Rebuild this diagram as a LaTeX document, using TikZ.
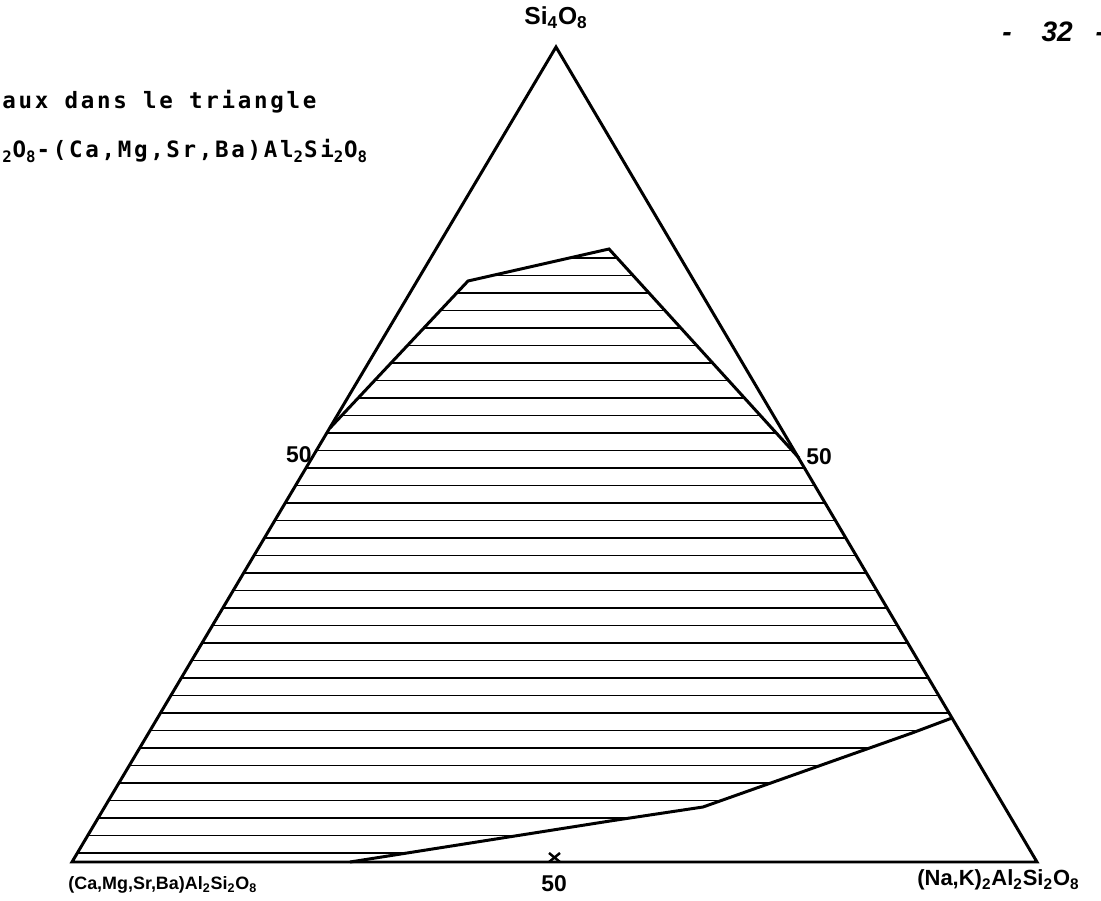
\documentclass[tikz,border=0pt]{standalone}
\usepackage{fontspec}
\setsansfont{Liberation Sans}
\newfontfamily\typefont[LetterSpace=12]{DejaVu Sans Mono}
\usetikzlibrary{calc}
\definecolor{inkcol}{RGB}{0,0,0}
\definecolor{papercol}{RGB}{255,255,255}
\newcommand{\sub}[1]{\textsubscript{#1}}
\tikzset{
  sideline/.style={inkcol, line width=1.7pt, line join=miter},
  hatchline/.style={inkcol, line width=1.1pt},
  cornerlabel/.style={inkcol, font=\sffamily\bfseries\fontsize{12}{14}\selectfont, inner sep=0pt},
  ticklabel/.style={inkcol, font=\sffamily\bfseries\fontsize{13}{15}\selectfont, inner sep=0pt},
  typedline/.style={inkcol, font=\typefont\bfseries\fontsize{12.8}{15}\selectfont, anchor=base west, inner sep=0pt}
}

\begin{document}
\begin{tikzpicture}[x=0.02cm, y=-0.02cm]

  % --- page -------------------------------------------------------------
  \fill[papercol] (0,0) rectangle (1101,901);
  \useasboundingbox (0,0) rectangle (1101,901);

  % --- coordinates ------------------------------------------------------
  \coordinate (Apex)        at (556,47);
  \coordinate (LeftCorner)  at (72,862);
  \coordinate (RightCorner) at (1037,862);

  % corners of the hatched field
  \coordinate (FieldTop)   at (609,249);
  \coordinate (FieldShoul) at (468,281);
  \coordinate (FieldLeft)  at (330,428);
  \coordinate (FieldRight) at (799,458);
  \coordinate (FieldLowA)  at (952,718);
  \coordinate (FieldLowB)  at (912,733);
  \coordinate (FieldLowC)  at (703,807);
  \coordinate (FieldLowD)  at (610,821);
  \coordinate (FieldBase)  at (350,862);

  % --- hatching of the field --------------------------------------------
  \begin{scope}
    \clip (FieldTop) -- (FieldShoul) -- (FieldLeft) -- (LeftCorner) -- (FieldBase)
      -- (FieldLowD) -- (FieldLowC) -- (FieldLowB) -- (FieldLowA) -- (FieldRight) -- cycle;
    \foreach \hy in {258,275.5,...,862}
      \draw[hatchline] (60,\hy) -- (1050,\hy);
  \end{scope}

  % --- outline of the field ---------------------------------------------
  \draw[sideline] (FieldRight) -- (FieldTop) -- (FieldShoul) -- (FieldLeft);
  \draw[sideline] (FieldBase) -- (FieldLowD) -- (FieldLowC) -- (FieldLowB) -- (FieldLowA);

  % --- the triangle -----------------------------------------------------
  \draw[sideline] (Apex) -- (LeftCorner) -- (RightCorner) -- cycle;

  % small cross on the base at 50
  \draw[inkcol, line width=1.4pt] (549,853) -- (560,862) (560,853) -- (549,862);

  % --- corner and scale labels ------------------------------------------
  \node[cornerlabel, font=\sffamily\bfseries\fontsize{14}{16}\selectfont] (TopName) at (556,18) {Si\sub{4}O\sub{8}};
  \node[cornerlabel, font=\sffamily\bfseries\fontsize{10.2}{12}\selectfont, anchor=west] (LeftName) at (68,885) {(Ca,Mg,Sr,Ba)Al\sub{2}Si\sub{2}O\sub{8}};
  \node[cornerlabel, font=\sffamily\bfseries\fontsize{12.5}{14}\selectfont, anchor=west] (RightName) at (917,880) {(Na,K)\sub{2}Al\sub{2}Si\sub{2}O\sub{8}};
  \node[ticklabel, anchor=east] (LeftMid) at (312,455) {50};
  \node[ticklabel, anchor=west] (RightMid) at (806,457) {50};
  \node[ticklabel] (BaseMid) at (554,884) {50};

  % --- heading text and page number -------------------------------------
  \node[typedline] (HeadOne) at (2,109) {aux dans le triangle};
  \node[typedline] (HeadTwo) at (2,158) {\sub{2}O\sub{8}-(Ca,Mg,Sr,Ba)Al\sub{2}Si\sub{2}O\sub{8}};
  \node[inkcol, font=\sffamily\bfseries\itshape\fontsize{16}{18}\selectfont, anchor=base west, inner sep=0pt]
    (PageNo) at (1002,42) {-\hspace{17pt}32\hspace{13pt}-};

\end{tikzpicture}
\end{document}
